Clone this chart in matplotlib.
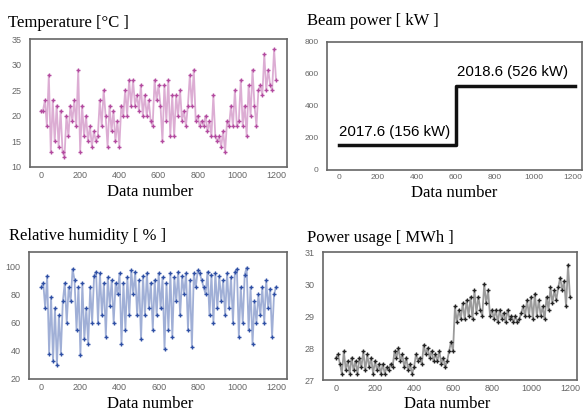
import matplotlib
matplotlib.use('Agg')
import matplotlib.pyplot as plt

# data number, sampled every 10
n = list(range(0, 1210, 10))

temperature = [21, 21, 23, 18, 28, 13, 23, 15, 22, 14,
               21, 13, 12, 20, 16, 22, 19, 23, 18, 29,
               13, 22, 16, 20, 15, 18, 14, 17, 15, 16,
               23, 18, 25, 20, 14, 22, 17, 21, 15, 19,
               14, 22, 20, 25, 20, 27, 22, 27, 22, 24,
               21, 26, 20, 24, 20, 23, 19, 18, 27, 23,
               26, 22, 15, 26, 19, 27, 16, 24, 16, 24,
               20, 25, 19, 21, 18, 22, 28, 22, 29, 19,
               20, 18, 19, 18, 20, 17, 19, 16, 24, 16,
               15, 16, 14, 17, 13, 19, 18, 22, 18, 25,
               18, 19, 27, 18, 22, 16, 26, 20, 29, 22,
               18, 25, 26, 24, 32, 25, 29, 26, 25, 33,
               27]

humidity = [85, 88, 70, 93, 38, 78, 33, 70, 30, 65,
            38, 75, 88, 60, 85, 75, 98, 90, 55, 85,
            37, 88, 48, 70, 45, 85, 60, 93, 96, 60,
            95, 65, 88, 50, 92, 72, 90, 60, 88, 80,
            95, 45, 88, 55, 92, 65, 97, 80, 96, 65,
            90, 48, 93, 65, 95, 70, 88, 55, 90, 65,
            95, 70, 92, 41, 88, 55, 95, 50, 92, 75,
            96, 65, 93, 80, 95, 55, 90, 43, 95, 85,
            97, 95, 90, 85, 80, 96, 65, 94, 60, 95,
            70, 93, 75, 90, 65, 95, 70, 92, 60, 96,
            98, 50, 85, 60, 94, 99, 55, 85, 45, 75,
            60, 80, 65, 85, 60, 90, 70, 84, 50, 80,
            85]

power_usage = [27.7, 27.8, 27.5, 27.2, 27.9, 27.3, 27.6, 27.2, 27.7, 27.3,
               27.6, 27.2, 27.7, 27.4, 27.9, 27.3, 27.8, 27.4, 27.7, 27.2,
               27.6, 27.3, 27.5, 27.2, 27.5, 27.2, 27.4, 27.3, 27.5, 27.4,
               27.9, 27.7, 28.0, 27.6, 27.8, 27.4, 27.7, 27.3, 27.5, 27.2,
               27.4, 27.8, 27.6, 27.7, 27.5, 28.1, 27.8, 28.0, 27.7, 27.9,
               27.6, 27.8, 27.6, 27.9, 27.5, 27.7, 27.4, 27.6, 27.9, 28.2,
               27.9, 29.3, 28.8, 29.2, 28.9, 29.4, 28.9, 29.5, 29.0, 29.6,
               28.9, 29.8, 29.1, 29.6, 29.2, 29.0, 30.0, 29.4, 29.8, 29.0,
               29.2, 28.9, 29.2, 28.8, 29.2, 28.9, 29.1, 28.8, 29.2, 28.9,
               29.0, 28.8, 29.0, 28.8, 28.9, 29.1, 29.3, 29.0, 29.5, 29.0,
               29.6, 28.9, 29.7, 29.0, 29.5, 29.0, 29.3, 28.9, 29.6, 29.2,
               29.9, 29.4, 29.8, 29.5, 29.9, 30.2, 29.8, 30.1, 29.3, 30.6,
               29.6]

# beam power steps from 156 kW to 526 kW at data number 600
beam_n = [0, 600, 600, 1210]
beam_kw = [156, 156, 526, 526]

fig = plt.figure(figsize=(5.83, 4.11), dpi=100)

serif = 'Liberation Serif'
tick_color = '#666666'
spine_color = '#666666'


def style(ax, xlim, ylim, yticks):
    ax.set_xlim(*xlim)
    ax.set_ylim(*ylim)
    ax.set_xticks([0, 200, 400, 600, 800, 1000, 1200])
    ax.set_yticks(yticks)
    ax.tick_params(length=0, labelsize=6.5, labelcolor=tick_color)
    ax.tick_params(axis='x', pad=3)
    ax.tick_params(axis='y', pad=6)
    for sp in ax.spines.values():
        sp.set_color(spine_color)
        sp.set_linewidth(1.2)
    for lab in ax.get_xticklabels() + ax.get_yticklabels():
        lab.set_family('Liberation Sans')


def series(ax, y, color):
    ax.plot(n, y, color=color, lw=1.3, alpha=0.45)
    ax.plot(n, y, color=color, lw=0, marker='+', ms=2.8, mew=1.0)


# Temperature
ax1 = fig.add_axes([0.0515, 0.5937, 0.4408, 0.3114])
series(ax1, temperature, '#b34a9f')
style(ax1, (-56, 1256), (10, 35), [10, 15, 20, 25, 30, 35])

# Beam power
ax2 = fig.add_axes([0.561, 0.5864, 0.437, 0.312])
ax2.plot(beam_n, beam_kw, color='#111111', lw=2.5)
style(ax2, (-61, 1246), (0, 800), [0, 200, 400, 600, 800])
ax2.tick_params(labelsize=6)
ax2.text(0, 212, '2017.6 (156 kW)', fontsize=10.8, family='Liberation Sans')
ax2.text(605, 584, '2018.6 (526 kW)', fontsize=10.8, family='Liberation Sans')

# Relative humidity
ax3 = fig.add_axes([0.0497, 0.0779, 0.4425, 0.309])
series(ax3, humidity, '#2e4fa5')
style(ax3, (-63, 1256), (20, 110), [20, 40, 60, 80, 100])

# Power usage
ax4 = fig.add_axes([0.554, 0.0754, 0.4357, 0.3114])
series(ax4, power_usage, '#222222')
style(ax4, (-67, 1236), (27, 31), [27, 28, 29, 30, 31])

# titles and x labels
fig.text(8 / 583, 1 - 27 / 411, 'Temperature [°C ]', family=serif, fontsize=12, va='baseline')
fig.text(307 / 583, 1 - 25 / 411, 'Beam power [ kW ]', family=serif, fontsize=12, va='baseline')
fig.text(9 / 583, 1 - 240 / 411, 'Relative humidity [ % ]', family=serif, fontsize=12, va='baseline')
fig.text(307 / 583, 1 - 242 / 411, 'Power usage [ MWh ]', family=serif, fontsize=12, va='baseline')
fig.text(150 / 583, 1 - 196 / 411, 'Data number', family=serif, fontsize=12, va='baseline', ha='center')
fig.text(454 / 583, 1 - 197 / 411, 'Data number', family=serif, fontsize=12, va='baseline', ha='center')
fig.text(150 / 583, 1 - 408 / 411, 'Data number', family=serif, fontsize=12, va='baseline', ha='center')
fig.text(447 / 583, 1 - 408 / 411, 'Data number', family=serif, fontsize=12, va='baseline', ha='center')

fig.savefig('out.png', dpi=100)
